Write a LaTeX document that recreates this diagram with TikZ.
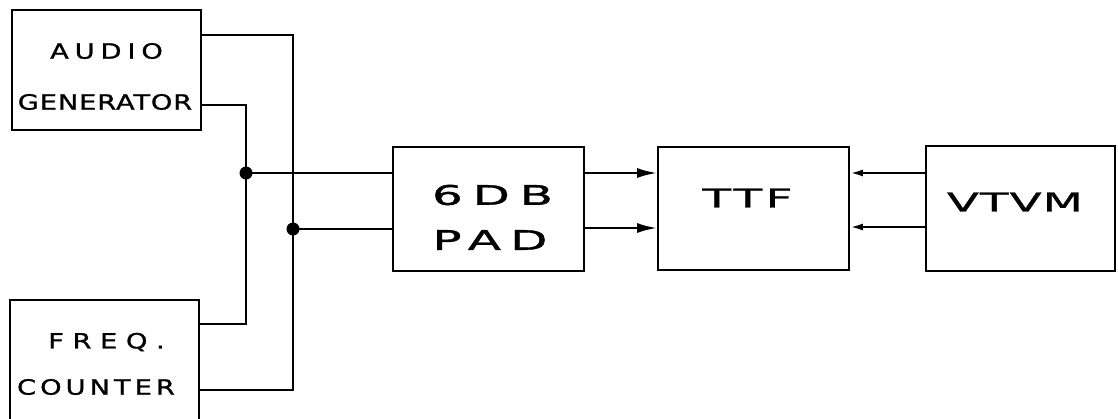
\documentclass[tikz,border=0pt]{standalone}
\usepackage{fontspec}
\newfontfamily\hand{DejaVu Sans}[FakeStretch=1.3,FakeBold=1.2]
\newfontfamily\handw{DejaVu Sans}[FakeStretch=1.8,FakeBold=1.2]
\usetikzlibrary{arrows.meta}
\begin{document}
\begin{tikzpicture}[x=1pt,y=1pt,
  blk/.style={draw,line width=1.8pt,rectangle,inner sep=0pt},
  lbl/.style 2 args={font=\hand\fontsize{#1}{#1}\selectfont\addfontfeatures{LetterSpace=#2},inner sep=0pt},
  lblw/.style 2 args={font=\handw\fontsize{#1}{#1}\selectfont\addfontfeatures{LetterSpace=#2},inner sep=0pt},
  wire/.style={line width=2.4pt},
  arr/.style={line width=2.4pt,-{Latex[length=20pt,width=10pt]}},
  arrs/.style={line width=2.4pt,-{Latex[length=13pt,width=7pt]}},
  dot/.style={fill,circle,inner sep=0pt,minimum size=13pt}]
\useasboundingbox (0,0) rectangle (1118,-418);
\begin{scope}
\clip (0,0) rectangle (1118,-418);
\node[blk,minimum width=189pt,minimum height=120pt] (ag) at (106.5,-70) {};
\node[blk,minimum width=189pt,minimum height=130pt] (fc) at (104.5,-365) {};
\node[blk,minimum width=191pt,minimum height=124pt] (pad) at (488.5,-209) {};
\node[blk,minimum width=191pt,minimum height=123pt] (ttf) at (753.5,-208.5) {};
\node[blk,minimum width=189pt,minimum height=125pt] (vtvm) at (1020.5,-208.5) {};

\node[lbl={21}{28}] (t1) at (106.5,-51) {AUDIO};
\node[lbl={21}{4}] (t2) at (105,-102) {GENERATOR};
\node[lbl={21}{41}] (t3) at (106.5,-342) {FREQ.};
\node[lbl={21}{19}] (t4) at (96,-387) {COUNTER};
\node[lblw={27}{36}] (t5) at (492.5,-195) {6DB};
\node[lblw={27}{34}] (t6) at (490,-240) {PAD};
\node[lblw={26}{13}] (t7) at (747.5,-198) {TTF};
\node[lblw={26}{4}] (t8) at (1015,-202) {VTVM};

\coordinate (j1) at (246,-173);
\coordinate (j2) at (293,-229);

\draw[wire] ([yshift=35pt]ag.east) -| (j2) |- ([yshift=-25pt]fc.east);
\draw[wire] ([yshift=-35pt]ag.east) -| (j1) |- ([yshift=41pt]fc.east);
\draw[wire] (j1) -- (pad.west |- j1);
\draw[wire] (j2) -- (pad.west |- j2);
\node[dot] (d1) at (j1) {};
\node[dot] (d2) at (j2) {};

\draw[arr] ([yshift=36pt]pad.east) -- ([yshift=35.5pt]ttf.west);
\draw[arr] ([yshift=-19pt]pad.east) -- ([yshift=-19.5pt]ttf.west);
\draw[arrs] ([yshift=35.5pt]vtvm.west) -- ([yshift=35.5pt]ttf.east);
\draw[arrs] ([yshift=-18.5pt]vtvm.west) -- ([yshift=-18.5pt]ttf.east);
\end{scope}
\end{tikzpicture}
\end{document}
